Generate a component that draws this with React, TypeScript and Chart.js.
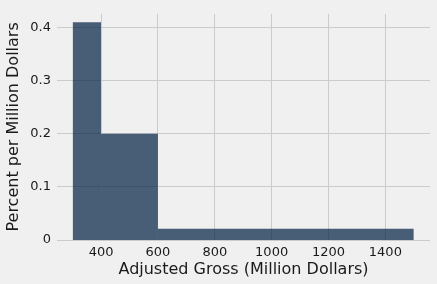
import React, { useEffect, useRef } from "react";
import { Chart, registerables } from "chart.js";

Chart.register(...registerables);

const binEdges = [300, 400, 600, 1500];
const binHeights = [0.41, 0.2, 0.021];
const xTicks = [400, 600, 800, 1000, 1200, 1400];
const yTicks = [0, 0.1, 0.2, 0.3, 0.4];
const xTitle = "Adjusted Gross (Million Dollars)";
const yTitle = "Percent per Million Dollars";

const W = 437;
const H = 284;

export default function App() {
  const ref = useRef<HTMLCanvasElement | null>(null);

  useEffect(() => {
    document.body.style.margin = "0";
    const canvas = ref.current;
    if (!canvas) return;

    const datasets = binHeights.map((h, i) => {
      const l = binEdges[i];
      const r = binEdges[i + 1];
      return {
        data: [
          { x: l, y: 0 },
          { x: l, y: h },
          { x: r, y: h },
          { x: r, y: 0 },
        ],
        fill: "origin",
        backgroundColor: "rgba(0,30,66,0.7)",
        borderWidth: 0,
        pointRadius: 0,
        tension: 0,
      };
    });

    const font = "'DejaVu Sans', sans-serif";
    const textColor = "#1a1a1a";

    const chart = new Chart(canvas, {
      type: "line",
      data: { datasets: datasets as any },
      options: {
        animation: false,
        responsive: false,
        maintainAspectRatio: false,
        layout: { padding: { top: 9, right: 7, left: 0, bottom: 0 } },
        plugins: {
          legend: { display: false },
          tooltip: { enabled: false },
        },
        scales: {
          x: {
            type: "linear",
            min: 245,
            max: 1557,
            afterBuildTicks: (scale: any) => {
              scale.ticks = xTicks.map((v) => ({ value: v }));
            },
            afterFit: (scale: any) => {
              scale.height = 44;
            },
            grid: { color: "#cbcbcb", lineWidth: 1, drawTicks: false },
            border: { display: false },
            ticks: {
              color: textColor,
              padding: 5,
              maxRotation: 0,
              font: { family: font, size: 13 },
              callback: (v: any) => String(v),
            },
            title: {
              display: true,
              text: xTitle,
              color: textColor,
              font: { family: font, size: 16 },
              padding: { top: 0, bottom: 5 },
            },
          },
          y: {
            type: "linear",
            min: 0,
            max: 0.4257,
            afterBuildTicks: (scale: any) => {
              scale.ticks = yTicks.map((v) => ({ value: v }));
            },
            afterFit: (scale: any) => {
              scale.width = 57;
            },
            grid: { color: "#cbcbcb", lineWidth: 1, drawTicks: false },
            border: { display: false },
            ticks: {
              color: textColor,
              padding: 6,
              font: { family: font, size: 13 },
              callback: (v: any) => (Number(v) === 0 ? "0" : Number(v).toFixed(1)),
            },
            title: {
              display: true,
              text: yTitle,
              color: textColor,
              font: { family: font, size: 16 },
              padding: { top: 4, bottom: 0 },
            },
          },
        },
      },
      plugins: [
        {
          id: "bg",
          beforeDraw: (c: any) => {
            const ctx = c.ctx;
            ctx.save();
            ctx.fillStyle = "#f0f0f0";
            ctx.fillRect(0, 0, c.width, c.height);
            ctx.restore();
          },
        },
      ],
    });

    return () => chart.destroy();
  }, []);

  return (
    <div style={{ position: "absolute", left: 0, top: 0, width: W, height: H, background: "#f0f0f0" }}>
      <canvas ref={ref} width={W} height={H} style={{ width: W, height: H, display: "block" }} />
    </div>
  );
}
